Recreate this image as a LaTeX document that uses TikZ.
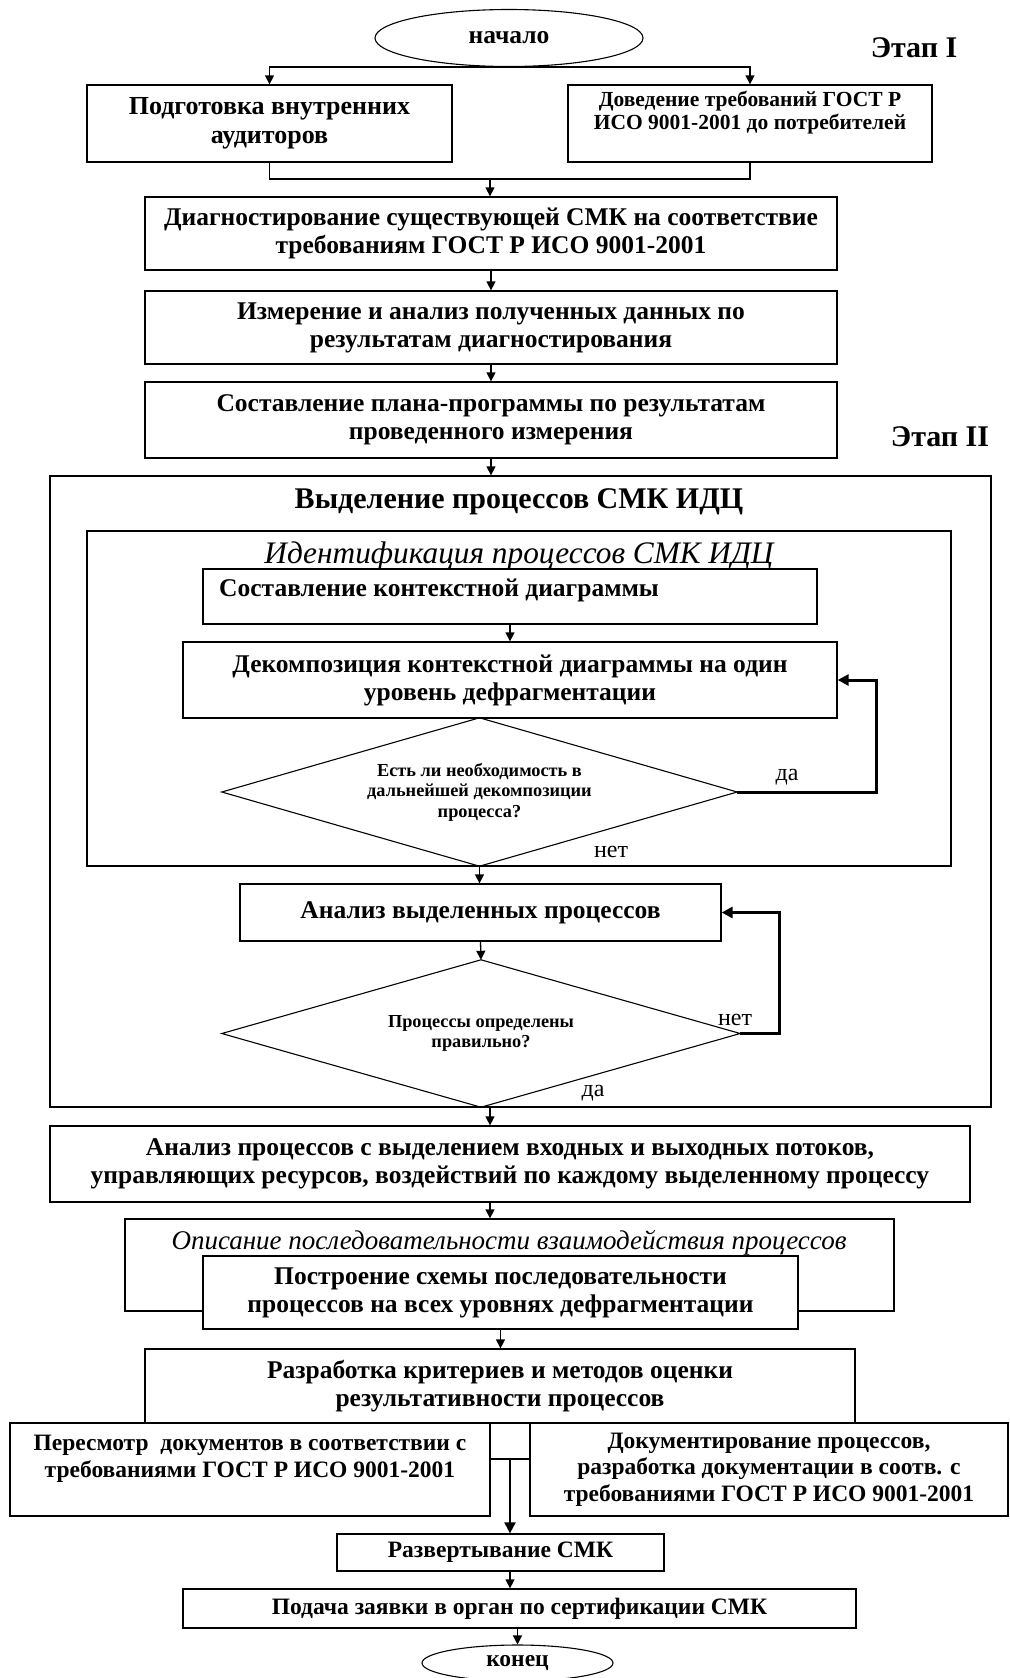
\documentclass[tikz,border=0pt]{standalone}
\usepackage{fontspec}
\setmainfont{Liberation Serif}
\usetikzlibrary{arrows.meta,shapes.geometric,calc}

\begin{document}
\begin{tikzpicture}[x=1pt,y=-1pt,
  box/.style={draw,line width=1.3pt,fill=white,inner sep=0pt,align=center},
  term/.style={draw,ellipse,line width=1.1pt,fill=white,inner sep=0pt},
  grp/.style={draw,line width=1.3pt,inner sep=0pt},
  decision/.style={inner sep=0pt,align=center},
  arr/.style={-{Triangle[length=9pt,width=9pt]},line width=1.3pt},
  loopback/.style={-{Triangle[length=11pt,width=11pt]},line width=3pt},
  mainf/.style={font=\bfseries\fontsize{25.5}{28}\selectfont},
  bigf/.style={font=\bfseries\fontsize{26}{29}\selectfont},
  smallf/.style={font=\bfseries\fontsize{21.5}{23}\selectfont},
  qf/.style={font=\bfseries\fontsize{18.3}{20.5}\selectfont},
  titlef/.style={font=\bfseries\fontsize{30}{32}\selectfont},
  itf/.style={font=\itshape\fontsize{31.3}{33}\selectfont},
  itsf/.style={font=\itshape\fontsize{27}{30}\selectfont},
  lowf/.style={font=\bfseries\fontsize{23.5}{26.5}\selectfont},
  lblf/.style={font=\fontsize{24}{26}\selectfont},
  stagef/.style={font=\bfseries\fontsize{30}{32}\selectfont},
]
\useasboundingbox (0,0) rectangle (1009,1678);
\fill[white] (0,0) rectangle (1009,1678);

% ---------- stage I ----------
\node[term,minimum width=268,minimum height=57,mainf] (start) at (509,38) {начало};
\node[stagef] (st1) at (914,48) {Этап I};

\node[box,bigf,minimum width=365,minimum height=77] (prep) at (269.5,123.5)
  {Подготовка внутренних\\аудиторов};
\node[box,smallf,minimum width=364,minimum height=77] (inform) at (750,123.5)
  {Доведение требований ГОСТ Р\\ИСО 9001-2001 до потребителей\\[4pt]};

\node[box,mainf,minimum width=692,minimum height=73] (diag) at (491,233.5)
  {Диагностирование существующей СМК на соответствие\\требованиям ГОСТ Р ИСО 9001-2001};
\node[box,mainf,minimum width=692,minimum height=73] (meas) at (491,327.5)
  {Измерение и анализ полученных данных по\\результатам диагностирования};
\node[box,mainf,minimum width=692,minimum height=76] (plan) at (491,420)
  {Составление плана-программы по результатам\\проведенного измерения};
\node[stagef] (st2) at (940,437) {Этап II};

% ---------- stage II: process identification ----------
\node[grp,minimum width=941,minimum height=631] (grpA) at (520.5,791.5) {};
\node[titlef] (grpAt) at (519,502) {Выделение процессов СМК ИДЦ};
\node[grp,minimum width=864,minimum height=335] (grpB) at (519,698.5) {};
\node[itf] (grpBt) at (519,556) {Идентификация процессов СМК ИДЦ};

\node[box,minimum width=614,minimum height=55] (ctx) at (510,596.5) {};
\node[mainf,anchor=west,inner sep=0pt] (ctxt) at (219,590) {Составление контекстной диаграммы};
\node[box,mainf,minimum width=654,minimum height=76] (decomp) at (510,680)
  {Декомпозиция контекстной диаграммы на один\\уровень дефрагментации};

\node[decision,qf,minimum width=515,minimum height=148] (d1) at (479.5,792)
  {Есть ли необходимость в\\дальнейшей декомпозиции\\процесса?};
\draw[line width=1.1pt] (d1.west) -- (d1.north) -- (d1.east) -- (d1.south) -- cycle;
\node[lblf] (yes1) at (787,777) {да};
\node[lblf] (no1) at (611,852) {нет};

\node[box,mainf,minimum width=481,minimum height=57] (anal) at (480.5,912.5)
  {Анализ выделенных процессов};
\node[decision,qf,minimum width=518,minimum height=147] (d2) at (481,1033.5)
  {Процессы определены\\правильно?};
\draw[line width=1.1pt] (d2.west) -- (d2.north) -- (d2.east) -- (d2.south) -- cycle;
\node[lblf] (no2) at (735,1020) {нет};
\node[lblf] (yes2) at (593,1093) {да};

% ---------- further steps ----------
\node[box,mainf,minimum width=920,minimum height=76] (analp) at (510,1164)
  {Анализ процессов с выделением входных и выходных потоков,\\управляющих ресурсов, воздействий по каждому выделенному процессу};
\node[grp,minimum width=769,minimum height=92] (descr) at (509.5,1265) {};
\node[itsf] (descrt) at (509,1243) {Описание последовательности взаимодействия процессов};
\node[box,mainf,minimum width=595,minimum height=73] (build) at (500.5,1292.5)
  {Построение схемы последовательности\\процессов на всех уровнях дефрагментации};
\node[box,mainf,minimum width=710,minimum height=74] (crit) at (500,1386)
  {Разработка критериев и методов оценки\\результативности процессов};
\node[box,lowf,minimum width=480,minimum height=93] (revise) at (250,1469.5)
  {Пересмотр\ \ документов в соответствии с\\требованиями ГОСТ Р ИСО 9001-2001\\\mbox{}};
\node[box,lowf,minimum width=478,minimum height=93] (docs) at (769,1469.5)
  {Документирование процессов,\\разработка документации в соотв. с\\требованиями ГОСТ Р ИСО 9001-2001};
\node[box,lowf,minimum width=327,minimum height=37] (deploy) at (500.5,1552.5)
  {Развертывание СМК};
\node[box,lowf,minimum width=673,minimum height=39] (submit) at (519.5,1608.5)
  {Подача заявки в орган по сертификации СМК};
\node[term,lowf,minimum width=191,minimum height=36] (finish) at (517.5,1663) {конец};

% ---------- connectors ----------
\draw[arr] (start.south) -| (prep.north);
\draw[arr] (start.south) -| (inform.north);
\coordinate (m1) at (490,179);
\draw[line width=1.3pt] (prep.south) |- (m1) -| (inform.south);
\draw[arr] (m1) -- (m1 |- diag.north);
\draw[arr] (diag.south) -- (diag.south |- meas.north);
\draw[arr] (meas.south) -- (meas.south |- plan.north);
\draw[arr] (plan.south) -- (plan.south |- grpA.north);

\draw[arr] (ctx.south) -- (decomp.north);
\draw[loopback] (d1.east) -| ($(decomp.east)+(39,0)$) -- (decomp.east);
\draw[arr] (d1.south) -- (d1.south |- anal.north);
\draw[arr] (anal.south) -- (d2.north);
\draw[loopback] (d2.east) -| ($(anal.east)+(58,0)$) -- (anal.east);

\coordinate (a5) at (490,1107);
\draw[arr] (a5) -- (a5 |- analp.north);
\draw[arr] (analp.south -| a5) -- (a5 |- descr.north);
\draw[arr] (build.south) -- (build.south |- crit.north);

\coordinate (j) at (510,1459);
\draw[line width=1.3pt] (revise.east |- j) -- (docs.west |- j);
\draw[-{Triangle[length=11pt,width=11pt]},line width=2.2pt] (j) -- (j |- deploy.north);
\draw[arr] (deploy.south -| j) -- (j |- submit.north);
\draw[arr] (submit.south -| finish.north) -- (finish.north);
\end{tikzpicture}
\end{document}
